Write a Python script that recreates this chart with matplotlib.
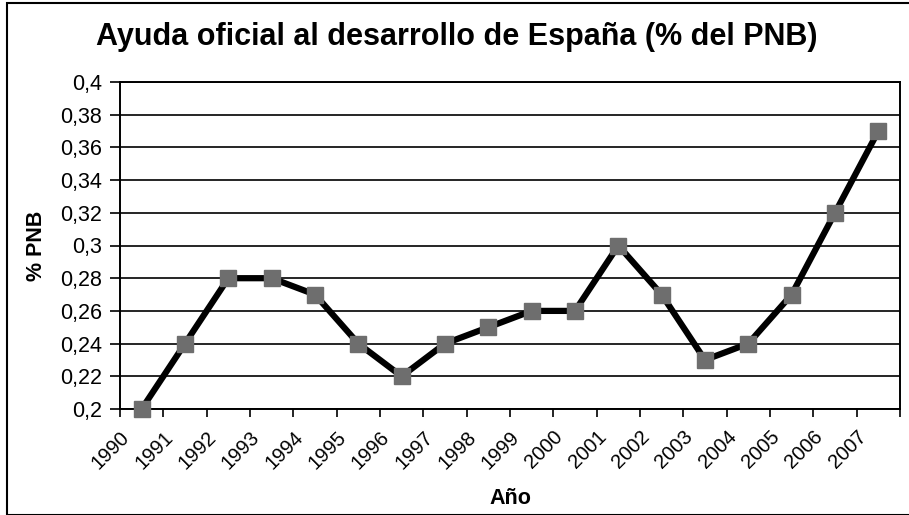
import numpy as np
import matplotlib.pyplot as plt
import matplotlib.transforms as mtransforms
from matplotlib.patches import Rectangle

plt.rcParams['font.family'] = ['Liberation Sans', 'DejaVu Sans']

anys = ['1990', '1991', '1992', '1993', '1994', '1995', '1996', '1997', '1998',
        '1999', '2000', '2001', '2002', '2003', '2004', '2005', '2006', '2007']
pnb = [0.20, 0.24, 0.28, 0.28, 0.27, 0.24, 0.22, 0.24, 0.25,
       0.26, 0.26, 0.30, 0.27, 0.23, 0.24, 0.27, 0.32, 0.37]
yticks = [0.2, 0.22, 0.24, 0.26, 0.28, 0.3, 0.32, 0.34, 0.36, 0.38, 0.4]

fig = plt.figure(figsize=(9.09, 5.15), dpi=100)
ax = fig.add_axes([120/909, 106/515, 780/909, 327/515])

x = np.arange(len(anys))
ax.plot(x, pnb, color='black', lw=4.5, marker='s', ms=12,
        markerfacecolor='#6e6e6e', markeredgecolor='#6e6e6e', zorder=3, clip_on=False)

ax.set_xlim(-0.5, len(anys) - 0.5)
ax.set_ylim(0.2, 0.4)
ax.set_yticks(yticks)
ax.set_yticklabels([('%g' % v).replace('.', ',') for v in yticks], fontsize=15.5)
ax.yaxis.grid(True, color='black', lw=1.2)
ax.set_axisbelow(True)

# ticks a les fronteres, etiquetes al centre
ax.set_xticks(np.arange(-0.5, len(anys), 1.0))
ax.set_xticklabels([])
ax.set_xticks(x, minor=True)
ax.set_xticklabels(anys, minor=True, rotation=45, ha='right', va='center',
                   rotation_mode='anchor', fontsize=14.5)
ax.tick_params(axis='x', which='minor', length=0, pad=18)
ax.tick_params(axis='x', which='major', length=6, width=1.2, direction='out')
ax.tick_params(axis='y', length=7, width=1.2, direction='out', pad=6)
offset = mtransforms.ScaledTranslation(-0.15, 0, fig.dpi_scale_trans)
for lab in ax.get_xticklabels(minor=True):
    lab.set_transform(lab.get_transform() + offset)

for s in ax.spines.values():
    s.set_linewidth(1.4)
    s.set_color('black')

ax.set_xlabel('Año', fontsize=15.5, fontweight='bold', va='center')
ax.xaxis.set_label_coords(0.5, (409 - 498) / 327)
ax.set_ylabel('% PNB', fontsize=15.5, fontweight='bold', va='center')
ax.yaxis.set_label_coords((37 - 120) / 780, 0.5)
fig.text(457/909, 1 - 37/515, 'Ayuda oficial al desarrollo de España (% del PNB)',
         ha='center', va='center', fontsize=22, fontweight='bold')

fig.patches.append(Rectangle((7/909, 0), 1.2, 1 - 3/515, transform=fig.transFigure,
                             fill=False, edgecolor='black', lw=1.5))

fig.savefig('out.png', dpi=100)
